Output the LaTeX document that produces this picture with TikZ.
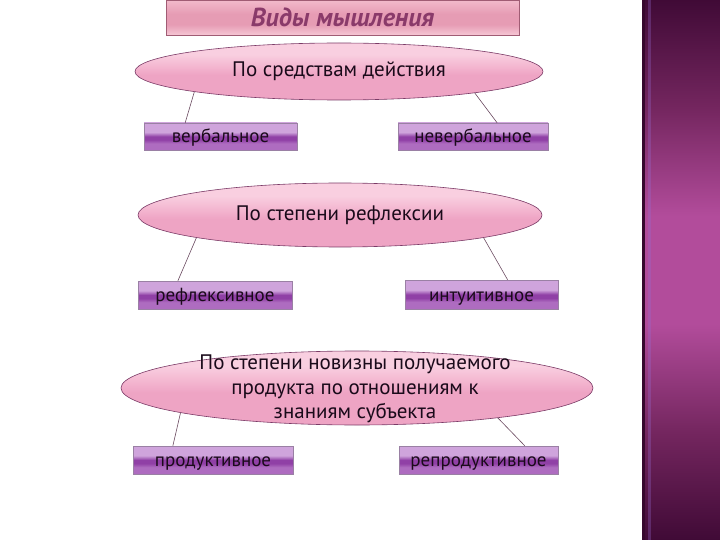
\documentclass[tikz,border=0pt]{standalone}
\usepackage{fontspec}
\setmainfont{PT Sans}
\usetikzlibrary{shapes.geometric,calc}
\definecolor{panelDark}{HTML}{400A36}
\definecolor{panelQ}{HTML}{74265F}
\definecolor{panelMid}{HTML}{B24C9B}
\definecolor{boxT}{HTML}{CFA4DC}
\definecolor{boxM}{HTML}{9040A6}
\definecolor{boxB}{HTML}{AE6CC0}
\definecolor{boxLine}{HTML}{9A80A4}
\definecolor{pinkT}{HTML}{F9CFE0}
\definecolor{pinkM}{HTML}{F2B0CC}
\definecolor{pinkB}{HTML}{EEA4C4}
\definecolor{ellLine}{HTML}{7A3A66}
\definecolor{titleT}{HTML}{F2BACB}
\definecolor{titleM}{HTML}{E69CB4}
\definecolor{titleB}{HTML}{F6C6D4}
\definecolor{titleLine}{HTML}{A05C74}
\definecolor{titleText}{HTML}{8A3A6A}
\definecolor{txt}{HTML}{1A0A1A}
\definecolor{connLine}{HTML}{6A4A60}
\pgfdeclareverticalshading{panelshade}{100bp}{color(0bp)=(panelDark); color(25bp)=(panelDark); color(35bp)=(panelQ); color(45bp)=(panelMid); color(55bp)=(panelMid); color(65bp)=(panelQ); color(75bp)=(panelDark); color(100bp)=(panelDark)}
\pgfdeclareverticalshading{boxshade}{100bp}{color(0bp)=(boxB); color(37bp)=(boxB); color(44bp)=(boxM); color(50bp)=(boxM); color(58bp)=(boxT); color(100bp)=(boxT)}
\pgfdeclareverticalshading{ellshade}{100bp}{color(0bp)=(pinkB); color(47bp)=(pinkB); color(52bp)=(pinkM); color(65bp)=(pinkT); color(100bp)=(pinkT)}
\pgfdeclareverticalshading{titleshade}{100bp}{color(0bp)=(titleB); color(25bp)=(titleB); color(40bp)=(titleM); color(55bp)=(titleM); color(75bp)=(titleT); color(100bp)=(titleT)}
\tikzset{
  ell/.style={ellipse, draw=ellLine, line width=0.6pt, shading=ellshade, inner sep=0pt},
  elltext/.style={inner sep=0pt, text=txt, font=\fontsize{21}{24.5}\selectfont, align=center},
  catbox/.style={rectangle, draw=boxLine, line width=0.5pt, shading=boxshade, inner sep=0pt,
    text=txt, font=\fontsize{19}{22}\selectfont, text height=17pt, text depth=4pt},
  titlebox/.style={rectangle, draw=titleLine, line width=0.7pt, shading=titleshade, inner sep=0pt,
    text=titleText, font=\fontsize{26}{30}\selectfont\bfseries\itshape, text height=24pt, text depth=5pt},
  conn/.style={draw=connLine, line width=0.6pt}
}
\begin{document}
\begin{tikzpicture}[x=1pt,y=-1pt]
\useasboundingbox (0,0) rectangle (720,540);
% right panel
\shade[shading=panelshade] (642,0) rectangle (720,540);
\fill[panelDark!85!black] (642,0) rectangle (645,540);
\fill[panelMid!60!blue!70!white, opacity=0.3] (648,0) rectangle (651,540);
% title
\node[titlebox, minimum width=353pt, minimum height=35pt] (title) at (342.5,17.5) {Виды мышления};
% level 1
\node[ell, minimum width=408pt, minimum height=57pt] (e1) at (339,71.5) {};
\node[elltext] (t1) at (e1.center) {По средствам действия};
\node[catbox, minimum width=153pt, minimum height=27pt] (b1) at (220.5,136.5) {вербальное};
\node[catbox, minimum width=150pt, minimum height=27pt] (b2) at (473,136.5) {невербальное};
% level 2
\node[ell, minimum width=404pt, minimum height=64pt] (e2) at (340,215) {};
\node[elltext] (t2) at (e2.center) {По степени рефлексии};
\node[catbox, minimum width=154pt, minimum height=28pt] (b3) at (215,295) {рефлексивное};
\node[catbox, minimum width=153pt, minimum height=29pt] (b4) at (481.5,294.5) {интуитивное};
% level 3
\node[ell, minimum width=472pt, minimum height=74pt] (e3) at (357,388) {};
\node[elltext] (t3) at (355,389) {По степени новизны получаемого\\продукта по отношениям к\\знаниям субъекта};
\node[catbox, minimum width=160pt, minimum height=28pt] (b5) at (213,460) {продуктивное};
\node[catbox, minimum width=159pt, minimum height=28pt] (b6) at (478.5,460) {репродуктивное};
% connectors
\draw[conn] (e1.188.3) -- ($(b1.north west)!0.27!(b1.north east)$);
\draw[conn] (e1.351.9) -- ($(b2.north west)!0.66!(b2.north east)$);
\draw[conn] (e2.189.1) -- ($(b3.north west)!0.26!(b3.north east)$);
\draw[conn] (e2.351) -- ($(b4.north west)!0.67!(b4.north east)$);
\draw[conn] (e3.188.5) -- ($(b5.north west)!0.25!(b5.north east)$);
\draw[conn] (e3.348) -- ($(b6.north west)!0.79!(b6.north east)$);
\end{tikzpicture}
\end{document}
